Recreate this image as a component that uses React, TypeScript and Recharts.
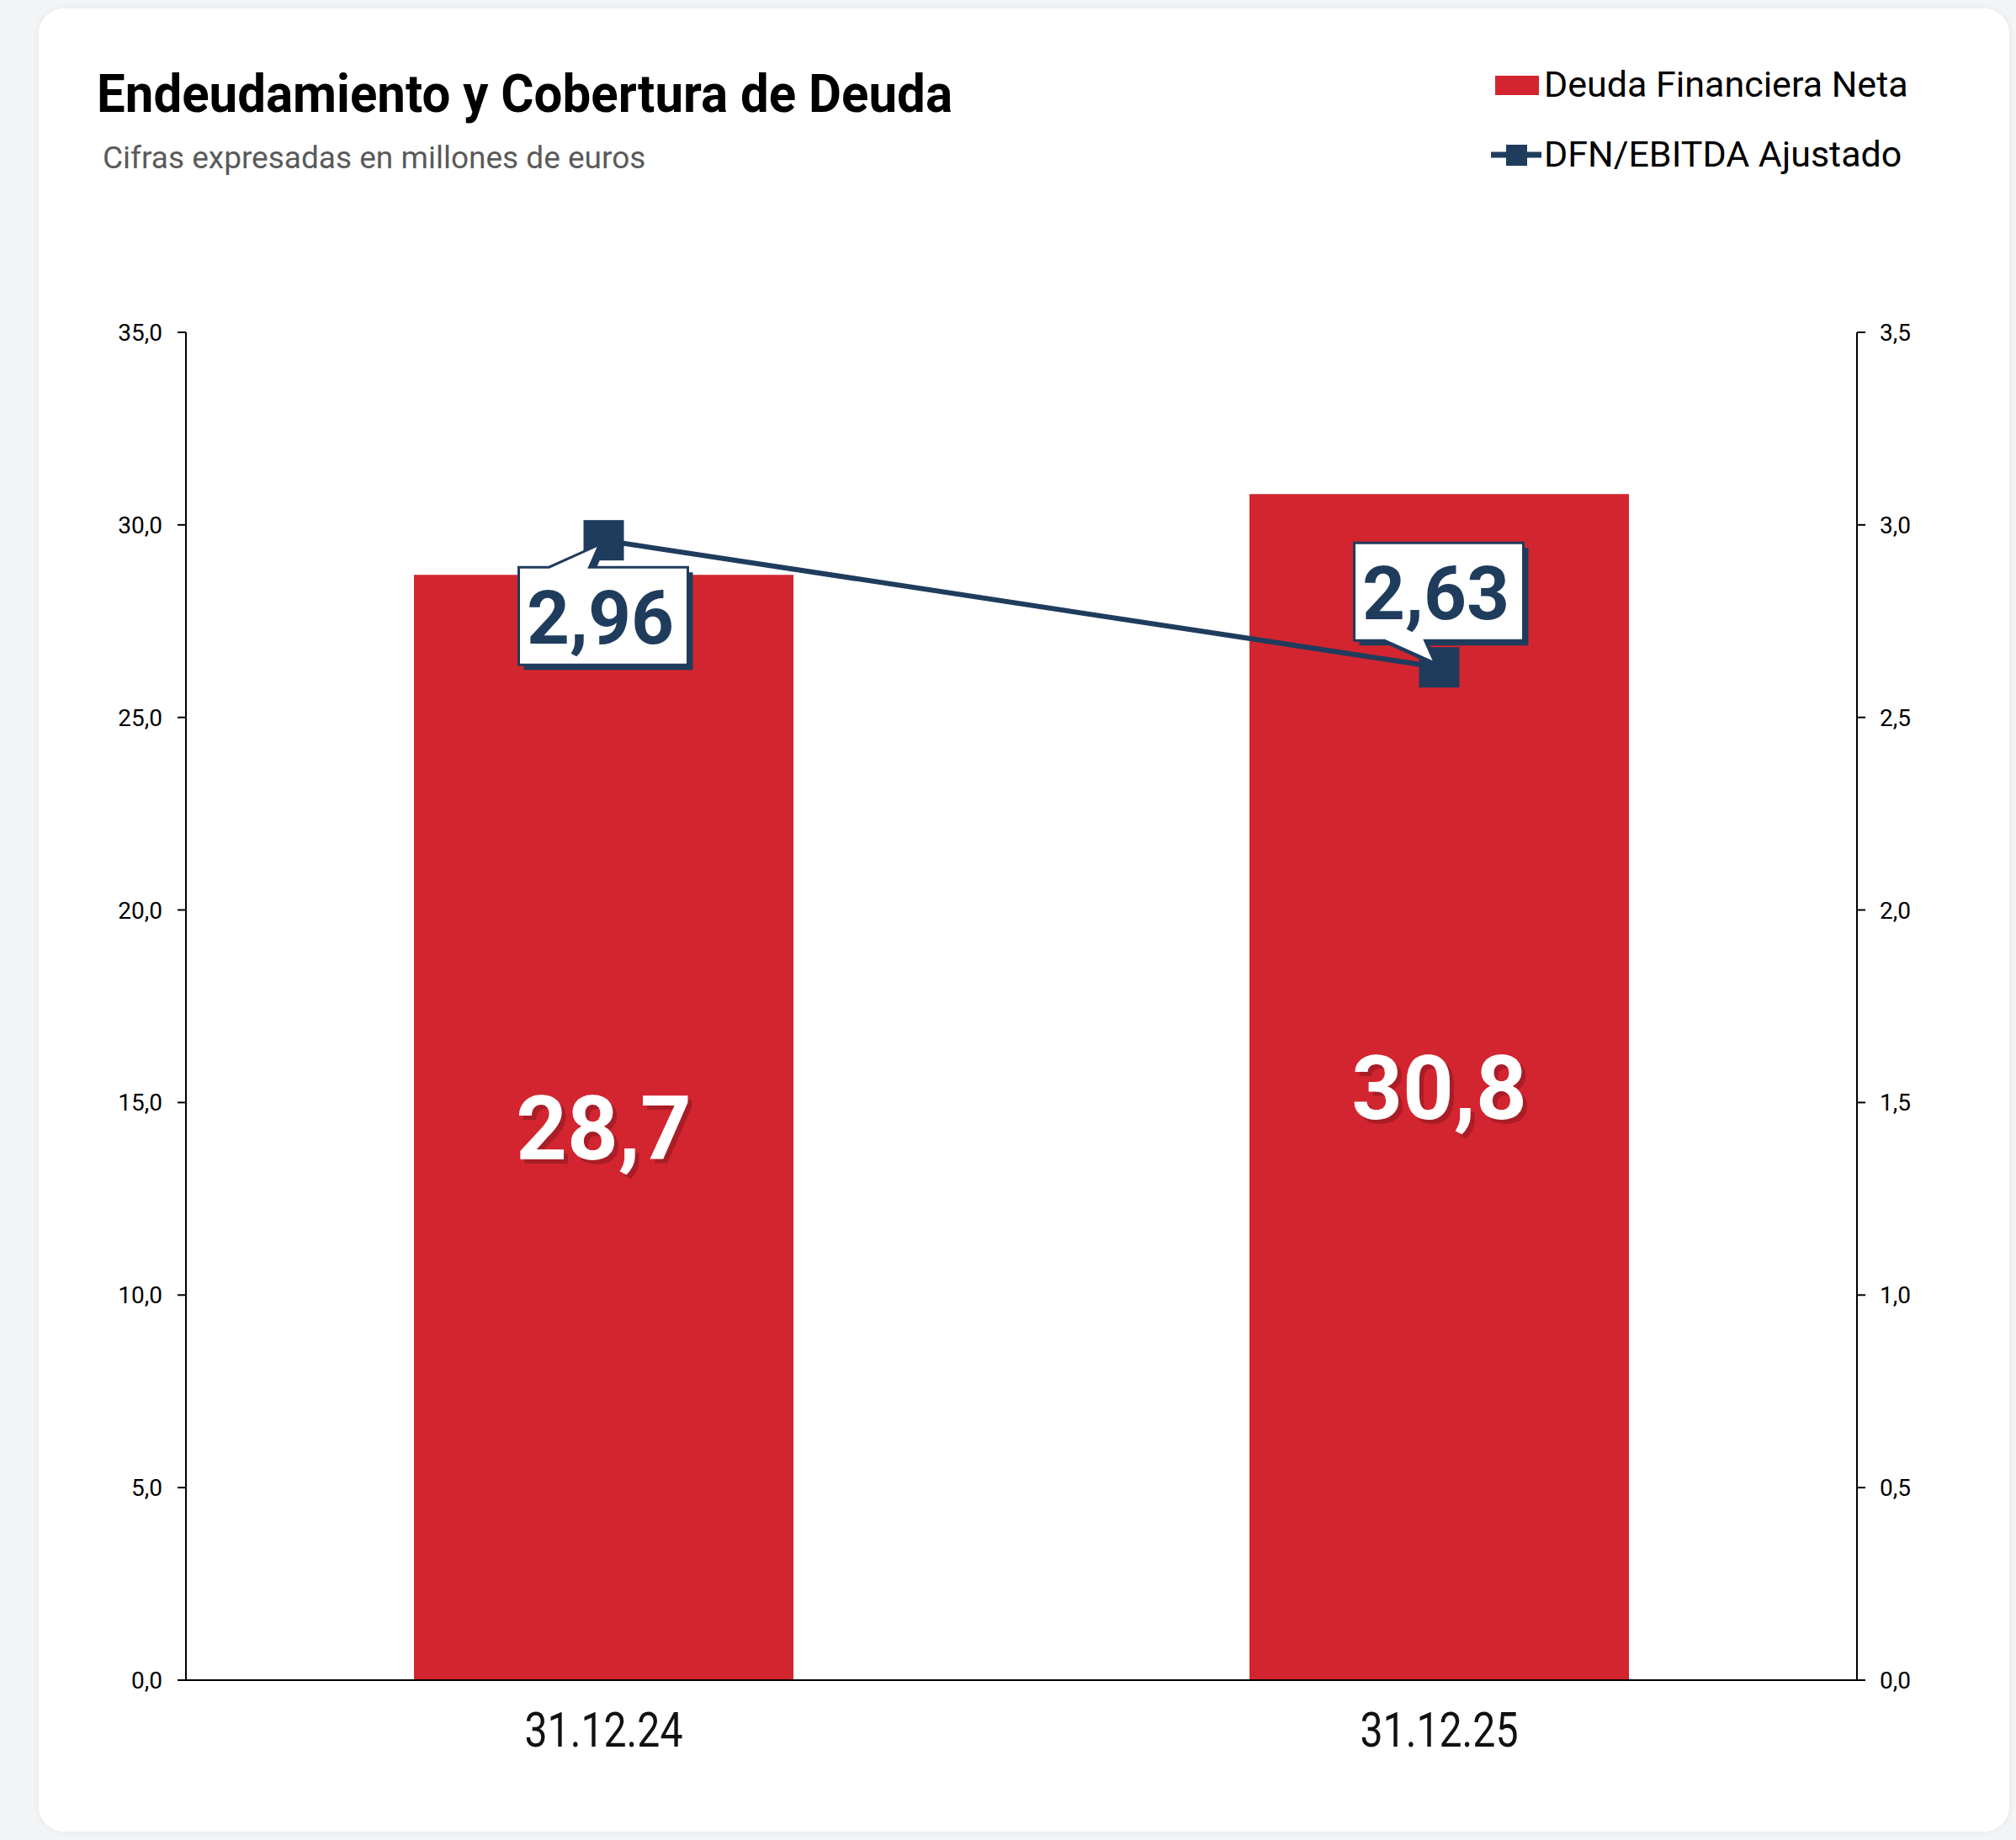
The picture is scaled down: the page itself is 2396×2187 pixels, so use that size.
import React from 'react';
import { ComposedChart, Bar, Line, XAxis, YAxis, LabelList } from 'recharts';

const categories = ['31.12.24', '31.12.25'];
const deudaFinancieraNeta = [28.7, 30.8];
const dfnEbitdaAjustado = [2.96, 2.63];
const leftTicks = [0, 5, 10, 15, 20, 25, 30, 35];
const rightTicks = [0, 0.5, 1, 1.5, 2, 2.5, 3, 3.5];

const RED = '#d3252f';
const NAVY = '#1f3c5d';
const FONT = 'Roboto, "Noto Sans", sans-serif';

const data = categories.map((c, i) => ({
  periodo: c,
  dfn: deudaFinancieraNeta[i],
  ratio: dfnEbitdaAjustado[i],
}));

const fmt1 = (v: number) => v.toFixed(1).replace('.', ',');
const fmt2 = (v: number) => v.toFixed(2).replace('.', ',');

// white value inside the bar with a dark red drop shadow
const BarValue = (props: any) => {
  const { x, y, width, height, value } = props;
  const cx = x + width / 2;
  const base = y + height / 2 + 38;
  const txt = fmt1(value);
  return (
    <g>
      <text x={cx + 5} y={base + 5} textAnchor="middle" fontSize={106} fontWeight={700} fontFamily={FONT} fill="#a91d26">
        {txt}
      </text>
      <text x={cx} y={base} textAnchor="middle" fontSize={106} fontWeight={700} fontFamily={FONT} fill="#fff">
        {txt}
      </text>
    </g>
  );
};

// speech bubble callout; first point below the marker, second above
const Callout = (props: any) => {
  const { x, y, value } = props;
  let idx = props.index;
  if (idx === undefined) idx = dfnEbitdaAjustado.indexOf(value);
  const dir = idx === 0 ? 1 : -1;
  const near = y + dir * 32;
  const far = y + dir * 148;
  const L = x - 101;
  const R = x + 100;
  const d = `M${L},${far} L${R},${far} L${R},${near} L${x - 17},${near} L${x - 5},${y + dir * 5} L${x - 65},${near} L${L},${near} Z`;
  const base = Math.max(near, far) - 25;
  return (
    <g>
      <path d={d} transform="translate(6,6)" fill={NAVY} />
      <path d={d} fill="#fff" stroke={NAVY} strokeWidth={3} strokeLinejoin="miter" />
      <text x={x - 4} y={base} textAnchor="middle" fontSize={89} fontWeight={700} fontFamily={FONT} fill={NAVY}>
        {fmt2(value)}
      </text>
    </g>
  );
};

const Square = (p: any) => (
  <rect key={`sq-${p.index}`} x={p.cx - 24} y={p.cy - 24} width={48} height={48} fill={NAVY} />
);

const CategoryTick = (props: any) => {
  const { x, y, payload } = props;
  return (
    <text x={x} y={y + 79} textAnchor="middle" fontSize={58} fontFamily={FONT} fill="#111" textLength={188} lengthAdjust="spacingAndGlyphs">
      {payload.value}
    </text>
  );
};

export default function App() {
  return (
    <div style={{ position: 'absolute', left: 0, top: 0, width: 2396, height: 2187, background: '#f2f4f6', overflow: 'hidden' }}>
      <div
        style={{
          position: 'absolute',
          left: 46,
          top: 10,
          width: 2342,
          height: 2167,
          background: '#fff',
          borderRadius: 30,
          boxShadow: '0 0 8px rgba(0,0,0,0.06)',
        }}
      />
      <svg width={2396} height={260} style={{ position: 'absolute', left: 0, top: 0 }}>
        <text x={115} y={133} fontSize={63} fontWeight={700} fontFamily={FONT} fill="#000" textLength={1017} lengthAdjust="spacingAndGlyphs">
          Endeudamiento y Cobertura de Deuda
        </text>
        <text x={122} y={200} fontSize={37} fontFamily={FONT} fill="#5a5a5a">
          Cifras expresadas en millones de euros
        </text>
        <rect x={1777} y={90} width={52} height={23} fill={RED} />
        <text x={1835} y={115} fontSize={43} fontFamily={FONT} fill="#000">Deuda Financiera Neta</text>
        <line x1={1772} y1={184} x2={1832} y2={184} stroke={NAVY} strokeWidth={7} />
        <rect x={1790} y={172} width={25} height={25} fill={NAVY} />
        <text x={1835} y={198} fontSize={43} fontFamily={FONT} fill="#000">DFN/EBITDA Ajustado</text>
      </svg>
      <div style={{ position: 'absolute', left: 0, top: 0 }}>
        <ComposedChart
          width={2396}
          height={2187}
          data={data}
          margin={{ top: 395, right: 89, bottom: 90, left: 121 }}
          style={{ fontFamily: FONT }}
        >
          <XAxis
            dataKey="periodo"
            xAxisId={0}
            height={100}
            axisLine={{ stroke: '#000', strokeWidth: 2 }}
            tickLine={false}
            tickSize={0}
            tickMargin={0}
            tick={<CategoryTick />}
          />
          <YAxis
            yAxisId="left"
            orientation="left"
            width={100}
            domain={[0, 35]}
            ticks={leftTicks}
            tickFormatter={fmt1}
            tickSize={10}
            tickMargin={18}
            axisLine={{ stroke: '#000', strokeWidth: 2 }}
            tickLine={{ stroke: '#000', strokeWidth: 2 }}
            tick={{ fontSize: 28, fill: '#000', fontFamily: FONT }}
          />
          <YAxis
            yAxisId="right"
            orientation="right"
            width={100}
            domain={[0, 3.5]}
            ticks={rightTicks}
            tickFormatter={fmt1}
            tickSize={10}
            tickMargin={17}
            axisLine={{ stroke: '#000', strokeWidth: 2 }}
            tickLine={{ stroke: '#000', strokeWidth: 2 }}
            tick={{ fontSize: 28, fill: '#000', fontFamily: FONT }}
          />
          <Bar dataKey="dfn" yAxisId="left" fill={RED} barSize={451} isAnimationActive={false}>
            <LabelList dataKey="dfn" content={<BarValue />} />
          </Bar>
          <Line
            dataKey="ratio"
            yAxisId="right"
            type="linear"
            stroke={NAVY}
            strokeWidth={6}
            dot={Square}
            activeDot={false}
            isAnimationActive={false}
          >
            <LabelList dataKey="ratio" content={<Callout />} />
          </Line>
        </ComposedChart>
      </div>
    </div>
  );
}
